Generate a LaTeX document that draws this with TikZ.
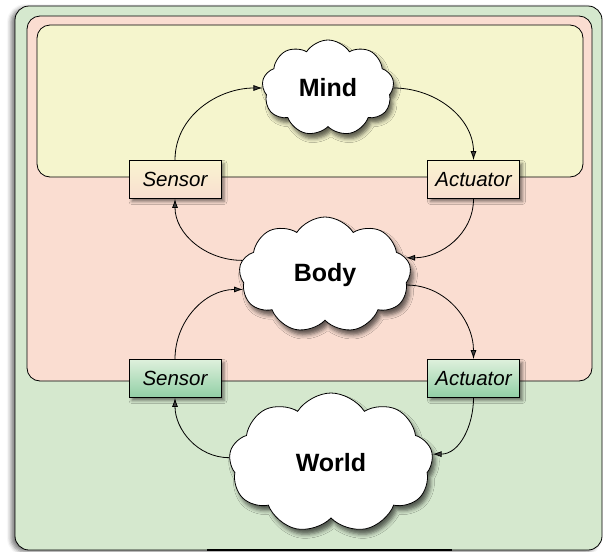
\documentclass[tikz,border=0pt]{standalone}
\usepackage{fontspec}
\setmainfont{Liberation Sans}
\usepackage{tikz}
\usetikzlibrary{shapes.symbols,shadows.blur,arrows.meta}
\definecolor{wgreen}{RGB}{213,232,206}
\definecolor{bpink}{RGB}{250,221,209}
\definecolor{myellow}{RGB}{245,245,205}
\definecolor{tantop}{RGB}{250,244,208}
\definecolor{tanbot}{RGB}{248,222,208}
\definecolor{grtop}{RGB}{222,240,220}
\definecolor{grbot}{RGB}{145,207,165}

\begin{document}
\begin{tikzpicture}[x=1pt,y=-1pt,
    region/.style={draw=black,line width=0.8pt,rounded corners=13pt},
    thought/.style={cloud,cloud puffs=9,cloud puff arc=115,cloud ignores aspect,
      draw,fill=white,line width=0.8pt,inner sep=0pt,
      font=\bfseries\fontsize{25}{28}\selectfont,
      blur shadow={shadow xshift=3pt,shadow yshift=-5pt,shadow blur radius=4pt,shadow opacity=60}},
    device/.style={draw,line width=0.8pt,minimum width=92pt,minimum height=38pt,
      font=\itshape\fontsize{20.5}{23}\selectfont,
      blur shadow={shadow xshift=3pt,shadow yshift=-3pt,shadow blur radius=3pt,shadow opacity=50}},
    link/.style={-{Latex[length=9pt,width=6pt]},line width=0.8pt}]
  \useasboundingbox (0,0) rectangle (606,552);
  % nested regions
  \draw[region,fill=wgreen,rounded corners=14pt,
    blur shadow={shadow xshift=-4pt,shadow yshift=-2pt,shadow blur radius=4pt,shadow opacity=50}] (15,6) rectangle (602,550);
  \draw[line width=2pt] (207,550) -- (452,550);
  \draw[region,fill=bpink] (27,16) rectangle (592,381);
  \draw[region,fill=myellow] (37,25) rectangle (583,177);
  % sensors and actuators
  \node[device,top color=tantop,bottom color=tanbot] (sensA) at (175,179.5) {Sensor};
  \node[device,top color=tantop,bottom color=tanbot] (actA) at (473.5,179.5) {Actuator};
  \node[device,top color=grtop,bottom color=grbot] (sensB) at (175,378.5) {Sensor};
  \node[device,top color=grtop,bottom color=grbot] (actB) at (473.5,378.5) {Actuator};
  % clouds
  \node[thought,minimum width=132pt,minimum height=96pt] (mind) at (328,88) {Mind};
  \node[thought,minimum width=172pt,minimum height=116pt] (body) at (325,275) {Body};
  \node[thought,minimum width=204pt,minimum height=140pt] (world) at (331,463) {World};
  % links
  \draw[link] (sensA.north) to[out=90,in=180] (mind.west);
  \draw[link] (mind.east) to[out=0,in=90] (actA.north);
  \draw[link] (body.170) to[out=180,in=-90] (sensA.south);
  \draw[link] (actA.south) to[out=-90,in=0] (body.12);
  \draw[link] (sensB.north) to[out=90,in=180] (body.190);
  \draw[link] (body.-7) to[out=0,in=90] (actB.north);
  \draw[link] (world.177) to[out=180,in=-90] (sensB.south);
  \draw[link] (actB.south) to[out=-90,in=0] (world.5);
\end{tikzpicture}
\end{document}
